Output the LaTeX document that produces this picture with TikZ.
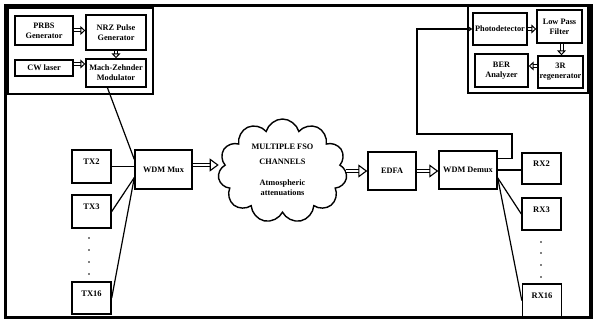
\documentclass[tikz,border=0pt]{standalone}
\usepackage{fontspec}
\setmainfont{Liberation Serif}
\usetikzlibrary{arrows.meta, shapes.symbols, fit, calc}

\begin{document}
\begin{tikzpicture}[
    x=1pt, y=-1pt,
    every node/.style={font=\bfseries\fontsize{8.3}{10}\selectfont},
    box/.style={draw, line width=1.4pt, align=center, inner sep=0pt},
    chan/.style={box, minimum width=39pt, text height=6pt, text depth=10pt, font=\bfseries\fontsize{8.5}{10}\selectfont},
    group/.style={draw, line width=1.7pt},
    link/.style={line width=1.2pt},
    fat/.style={double, double distance=2.6pt, line width=1.1pt, -{Triangle[open, length=9pt, width=13pt]}},
    slim/.style={double, double distance=2pt, line width=1pt, -{Triangle[open, length=5pt, width=9pt]}},
]
    \useasboundingbox (0,0) rectangle (593,323);
    \draw[line width=3.8pt] (5.5,5.5) rectangle (591,317.5);

    % Transmitter block
    \node[box, minimum width=58pt, minimum height=29pt] (prbs) at (44,30.5) {PRBS\\Generator};
    \node[box, minimum width=60pt, minimum height=35pt] (nrz) at (116,32.5) {NRZ Pulse\\Generator};
    \node[box, minimum width=58pt, minimum height=16pt] (cw) at (44,68) {CW laser};
    \node[box, minimum width=60pt, minimum height=28pt] (mzm) at (116,73) {Mach-Zehnder\\Modulator};
    \node[group, fit=(prbs)(nrz)(cw)(mzm), inner sep=6pt] (txgrp) {};
    \draw[slim] (prbs.east) -- (prbs.east -| nrz.west);
    \draw[slim] (nrz.south) -- (mzm.north);
    \draw[slim] ([yshift=4pt]cw.east) -- ([yshift=4pt]cw.east -| mzm.west);

    % Receiver block
    \node[box, minimum width=54pt, minimum height=32pt] (pd) at (500,29) {Photodetector};
    \node[box, minimum width=45pt, minimum height=33pt] (lpf) at (559.5,26.5) {Low Pass\\Filter};
    \node[box, minimum width=53pt, minimum height=33pt] (ber) at (501.5,70.5) {BER\\Analyzer};
    \node[box, minimum width=45pt, minimum height=32pt] (regen) at (560.5,72) {3R\\regenerator};
    \node[group, fit=(pd)(lpf)(ber)(regen), inner sep=4pt] (rxgrp) {};
    \draw[slim] (pd.east) -- (pd.east -| lpf.west);
    \draw[slim] ([xshift=2pt]lpf.south) -- ([xshift=2pt]lpf.south |- regen.north);
    \draw[slim] ([yshift=6pt]regen.west) -- ([yshift=6pt]regen.west -| ber.east);

    % Channels
    \node[chan, minimum height=33pt] (tx2) at (91.5,166.5) {TX2};
    \node[chan, minimum height=33pt] (tx3) at (91.5,211.5) {TX3};
    \node[chan, minimum height=32pt] (tx16) at (91.5,298) {TX16};
    \node[chan, minimum height=31pt] (rx2) at (541.5,168.5) {RX2};
    \node[chan, minimum height=32pt] (rx3) at (541.5,214) {RX3};
    \node[chan, minimum height=33pt] (rx16) at (542,300.5) {RX16};
    \foreach \y in {238,250,262,274} \fill (89,\y) circle (0.9pt);
    \foreach \y in {242,253,265,277} \fill (541,\y) circle (0.9pt);

    % Link
    \node[box, minimum width=57pt, minimum height=39pt] (mux) at (163.5,169.5) {WDM Mux};
    \node[draw, cloud, cloud puffs=11, cloud ignores aspect, line width=1.4pt,
          minimum width=129pt, minimum height=104pt] (fso) at (282.5,171) {};
    \node[align=center] (fsotxt) at ([yshift=1pt]fso.center)
        {MULTIPLE FSO\\[5pt]CHANNELS\\[11pt]Atmospheric\\attenuations};
    \node[box, minimum width=48pt, minimum height=38pt] (edfa) at (392,171) {EDFA};
    \node[box, minimum width=58pt, minimum height=38pt] (demux) at (468,170) {WDM Demux};

    \draw[fat] ([yshift=4.5pt]mux.east) -- ([yshift=4.5pt]mux.east -| fso.west);
    \draw[fat] (fso.east |- edfa.west) -- (edfa.west);
    \draw[fat] (edfa.east) -- (edfa.east -| demux.west);

    \draw[link] ($(mzm.south west)!0.36!(mzm.south east)$) -- ($(mux.north west)!0.25!(mux.south west)$);
    \draw[link] (tx2.east) -- (tx2.east -| mux.west);
    \draw[link] (tx3.east) -- ($(mux.north west)!0.7!(mux.south west)$);
    \draw[link] (tx16.east) -- ($(mux.north west)!0.7!(mux.south west)$);
    \draw[link] (demux.east) -- (demux.east -| rx2.west);
    \draw[link] ($(demux.north east)!0.7!(demux.south east)$) -- (rx3.west);
    \draw[link] ($(demux.north east)!0.7!(demux.south east)$) -- (rx16.west);
    \draw[link, -{Triangle[open, length=4pt, width=5pt]}]
        ($(demux.north east)!0.21!(demux.south east)$) -| (512,134) -- (417,134) |- (pd.west);
\end{tikzpicture}
\end{document}
